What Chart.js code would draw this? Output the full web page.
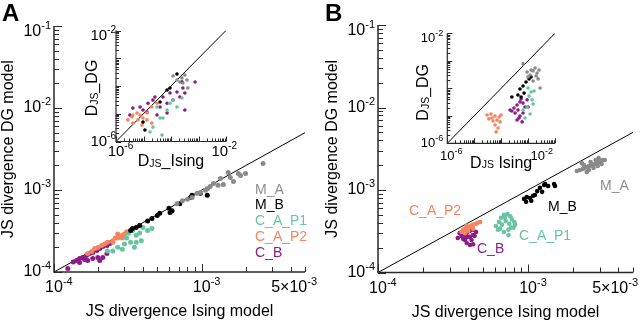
<!DOCTYPE html>
<html>
<head>
<meta charset="utf-8">
<script src="https://cdn.jsdelivr.net/npm/chart.js@4.4.0/dist/chart.umd.min.js"></script>
<style>
  html, body { margin: 0; padding: 0; background: #fff; }
  #wrap { position: relative; width: 640px; height: 324px; overflow: hidden; background: #fff; }
  canvas { position: absolute; }
</style>
</head>
<body>
<div id="wrap">
  <canvas id="mainA" width="320" height="324" style="left:0px;top:0px"></canvas>
  <canvas id="mainB" width="320" height="324" style="left:320px;top:0px"></canvas>
  <canvas id="insetA" width="200" height="175" style="left:60px;top:0px"></canvas>
  <canvas id="insetB" width="200" height="175" style="left:380px;top:0px"></canvas>
</div>
<script>
var FONT = '"Liberation Sans", Arial, Helvetica, sans-serif';

// groups, in the order of the legend
var groups = ['M_A', 'M_B', 'C_A_P1', 'C_A_P2', 'C_B'];
var groupColors = ['#8a8a8a', '#000000', '#68c3a0', '#f5845f', '#8a1c88'];

// tick labels
var mainXTicks = [1e-4, 1e-3, 5e-3];
var mainXLabels = [['10', '-4'], ['10', '-3'], ['5\u00d710', '-3']];
var mainYTicks = [1e-4, 1e-3, 1e-2, 1e-1];
var mainYLabels = [['10', '-4'], ['10', '-3'], ['10', '-2'], ['10', '-1']];
var insetTicks = [1e-6, 1e-2];
var insetLabels = [['10', '-6'], ['10', '-2']];

// panel A, main plot: [JS Ising, JS DG]
var mainA_MA = [[2.6e-3,2.1e-3],[1.77e-3,1.59e-3],[1.98e-3,1.59e-3],[1.51e-3,1.63e-3],[1.56e-3,1.42e-3],[1.34e-3,1.38e-3],[1.2e-3,1.2e-3],[1.14e-3,1.1e-3],[1.06e-3,0.99e-3],[0.98e-3,0.93e-3],[0.93e-3,0.91e-3],[0.86e-3,0.81e-3],[0.8e-3,0.77e-3],[0.74e-3,0.74e-3],[0.68e-3,0.68e-3],[1.29e-3,1.14e-3],[1.4e-3,1.17e-3],[1.64e-3,1.27e-3],[1.83e-3,1.5e-3],[1.1e-3,1.04e-3]];
var mainA_MB = [[1.09e-3,0.86e-3],[0.86e-3,0.86e-3],[0.84e-3,0.81e-3],[0.71e-3,0.68e-3],[0.63e-3,0.56e-3],[0.61e-3,0.53e-3],[0.52e-3,0.52e-3],[0.5e-3,0.49e-3],[0.46e-3,0.45e-3],[0.43e-3,0.42e-3],[0.38e-3,0.37e-3],[0.36e-3,0.35e-3],[0.34e-3,0.34e-3],[0.33e-3,0.32e-3],[0.98e-3,0.91e-3],[0.6e-3,0.6e-3]];
var mainA_CAP1 = [[0.46e-3,0.34e-3],[0.43e-3,0.32e-3],[0.40e-3,0.35e-3],[0.38e-3,0.30e-3],[0.39e-3,0.24e-3],[0.36e-3,0.23e-3],[0.35e-3,0.20e-3],[0.33e-3,0.23e-3],[0.31e-3,0.26e-3],[0.30e-3,0.22e-3],[0.29e-3,0.19e-3],[0.27e-3,0.20e-3],[0.25e-3,0.18e-3],[0.23e-3,0.18e-3],[0.32e-3,0.30e-3],[0.36e-3,0.28e-3],[0.34e-3,0.32e-3]];
var mainA_CAP2 = [[0.32e-3,0.30e-3],[0.30e-3,0.29e-3],[0.29e-3,0.28e-3],[0.27e-3,0.26e-3],[0.26e-3,0.26e-3],[0.25e-3,0.24e-3],[0.23e-3,0.23e-3],[0.22e-3,0.22e-3],[0.21e-3,0.21e-3],[0.198e-3,0.199e-3],[0.189e-3,0.194e-3],[0.18e-3,0.178e-3],[0.169e-3,0.168e-3],[0.27e-3,0.29e-3],[0.29e-3,0.26e-3],[0.25e-3,0.23e-3],[0.31e-3,0.31e-3],[0.28e-3,0.27e-3]];
var mainA_CB = [[0.124e-3,0.110e-3],[0.142e-3,0.138e-3],[0.149e-3,0.146e-3],[0.156e-3,0.150e-3],[0.166e-3,0.159e-3],[0.174e-3,0.168e-3],[0.183e-3,0.173e-3],[0.195e-3,0.183e-3],[0.204e-3,0.194e-3],[0.214e-3,0.205e-3],[0.228e-3,0.21e-3],[0.239e-3,0.223e-3],[0.169e-3,0.138e-3],[0.149e-3,0.131e-3],[0.198e-3,0.150e-3],[0.204e-3,0.138e-3],[0.228e-3,0.168e-3],[0.183e-3,0.146e-3],[0.214e-3,0.150e-3],[0.161e-3,0.142e-3],[0.135e-3,0.132e-3],[0.19e-3,0.19e-3]];

// panel A, inset
var insetA_MA = [[1.18e-4,2.29e-4],[2.5e-4,1.94e-4],[3.2e-4,2.5e-4],[3.8e-4,1.64e-4],[2.7e-4,1.28e-4],[4.1e-4,0.85e-4],[2.1e-4,1.39e-4],[1.65e-4,1.64e-4]];
var insetA_MB = [[1.65e-4,2.7e-4],[2.5e-4,1.39e-4],[0.92e-4,0.85e-4],[0.72e-4,0.72e-4],[0.96e-5,5.0e-6],[1.13e-5,2.6e-6],[4.0e-5,2.65e-5]];
var insetA_CAP1 = [[2.5e-4,3.7e-5],[1.65e-4,1.75e-5],[7.2e-5,1.36e-5],[4.0e-5,7.0e-6],[5.1e-5,7.0e-6],[2.2e-5,3.3e-6],[1.72e-5,2.2e-6],[4.7e-5,1.7e-6],[1.18e-4,3.1e-5],[3.1e-5,1.75e-5],[9.2e-5,2.4e-5]];
var insetA_CAP2 = [[4.1e-6,9.0e-6],[5.8e-6,1.06e-5],[7.5e-6,9.0e-6],[9.6e-6,7.0e-6],[1.34e-5,1.06e-5],[6.3e-6,6.0e-6],[4.1e-6,4.6e-6],[2.7e-6,6.0e-6],[1.34e-5,6.0e-6],[2.0e-5,1.75e-5],[3.1e-5,2.4e-5],[2.0e-5,4.6e-6],[8.8e-6,3.9e-6],[3.8e-6,7.6e-6]];
var insetA_CB = [[7.5e-4,1.39e-4],[2.7e-4,0.85e-4],[3.2e-4,5.6e-5],[1.65e-4,6.1e-5],[2.1e-4,4.0e-5],[0.92e-4,5.6e-5],[5.1e-5,4.0e-5],[1.18e-4,3.1e-5],[7.2e-5,2.4e-5],[4.0e-5,1.75e-5],[2.2e-5,3.1e-5],[1.46e-5,2.4e-5],[7.5e-6,1.75e-5],[4.1e-6,1.6e-5],[3.2e-6,9.0e-6],[3.1e-5,9.0e-6],[7.2e-5,1.06e-5],[3.2e-4,1.36e-5],[1.34e-5,1.16e-5],[2.6e-5,4.0e-5],[0.96e-5,1.36e-5]];

// panel B, main plot
var mainB_MA = [[2.11e-3,1.70e-3],[2.21e-3,1.75e-3],[2.31e-3,1.80e-3],[2.38e-3,1.85e-3],[2.46e-3,1.90e-3],[2.54e-3,1.95e-3],[2.61e-3,1.95e-3],[2.69e-3,2.01e-3],[2.78e-3,2.07e-3],[2.86e-3,2.12e-3],[2.95e-3,2.18e-3],[3.04e-3,2.25e-3],[3.14e-3,2.31e-3],[3.24e-3,2.31e-3],[2.54e-3,1.75e-3],[2.73e-3,1.85e-3],[2.35e-3,2.01e-3],[2.91e-3,1.95e-3],[3.09e-3,2.07e-3],[2.61e-3,2.18e-3],[2.82e-3,2.31e-3],[2.46e-3,1.65e-3],[2.28e-3,2.12e-3],[2.95e-3,2.44e-3]];
var mainB_MB = [[0.94e-3,0.78e-3],[0.98e-3,0.82e-3],[1.03e-3,0.80e-3],[1.08e-3,0.85e-3],[0.97e-3,0.72e-3],[1.05e-3,0.74e-3],[1.11e-3,0.87e-3],[1.15e-3,0.97e-3],[1.20e-3,1.06e-3],[1.28e-3,1.15e-3],[1.36e-3,1.12e-3],[1.49e-3,1.18e-3],[1.51e-3,1.12e-3],[1.24e-3,0.95e-3],[1.30e-3,1.18e-3]];
var mainB_CAP1 = [[0.61e-3,0.366e-3],[0.64e-3,0.41e-3],[0.66e-3,0.46e-3],[0.69e-3,0.50e-3],[0.73e-3,0.51e-3],[0.76e-3,0.48e-3],[0.78e-3,0.44e-3],[0.81e-3,0.41e-3],[0.82e-3,0.38e-3],[0.77e-3,0.35e-3],[0.74e-3,0.33e-3],[0.69e-3,0.31e-3],[0.74e-3,0.285e-3],[0.65e-3,0.34e-3],[0.67e-3,0.38e-3],[0.71e-3,0.42e-3],[0.75e-3,0.39e-3],[0.80e-3,0.35e-3],[0.63e-3,0.33e-3],[0.70e-3,0.46e-3]];
var mainB_CAP2 = [[0.36e-3,0.31e-3],[0.37e-3,0.33e-3],[0.38e-3,0.34e-3],[0.39e-3,0.35e-3],[0.41e-3,0.36e-3],[0.42e-3,0.37e-3],[0.43e-3,0.38e-3],[0.45e-3,0.39e-3],[0.46e-3,0.40e-3],[0.48e-3,0.41e-3],[0.38e-3,0.30e-3],[0.40e-3,0.32e-3],[0.43e-3,0.34e-3],[0.39e-3,0.37e-3]];
var mainB_CB = [[0.34e-3,0.262e-3],[0.36e-3,0.277e-3],[0.38e-3,0.285e-3],[0.39e-3,0.30e-3],[0.41e-3,0.32e-3],[0.43e-3,0.33e-3],[0.45e-3,0.31e-3],[0.41e-3,0.27e-3],[0.38e-3,0.248e-3],[0.42e-3,0.248e-3],[0.39e-3,0.228e-3],[0.43e-3,0.22e-3],[0.37e-3,0.255e-3],[0.44e-3,0.277e-3],[0.35e-3,0.30e-3],[0.39e-3,0.27e-3],[0.43e-3,0.285e-3],[0.41e-3,0.215e-3]];

// panel B, inset
var insetB_MA = [[6.5e-4,7.7e-4],[9.2e-4,3.9e-4],[1.19e-3,3.05e-4],[1.53e-3,4.3e-4],[2.16e-3,3.6e-4],[1.53e-3,1.84e-4],[2.36e-3,2.2e-4],[2.79e-3,1.03e-4],[1.82e-3,5.5e-4],[1.0e-3,2.6e-4],[1.29e-3,4.6e-4],[1.98e-3,2.8e-4],[2.56e-3,4.6e-4]];
var insetB_MB = [[2.5e-4,4.8e-5],[5.0e-4,9.4e-5],[6.5e-4,1.21e-4],[8.4e-4,1.69e-4],[1.09e-3,2.2e-4],[7.1e-4,6.7e-5],[5.5e-4,4.8e-5],[4.2e-4,5.7e-5],[1.29e-3,2.6e-4]];
var insetB_CAP1 = [[1.0e-3,1.03e-4],[1.29e-3,7.3e-5],[1.67e-3,8.0e-5],[1.41e-3,3.8e-5],[9.2e-4,2.1e-5],[1.19e-3,1.16e-5],[7.7e-4,8.3e-6],[6.5e-4,1.63e-5],[1.09e-3,5.2e-5],[1.53e-3,2.7e-5]];
var insetB_CAP2 = [[3.0e-5,1.07e-5],[4.2e-5,1.16e-5],[5.9e-5,0.98e-5],[8.4e-5,9.0e-6],[9.9e-5,1.07e-5],[3.5e-5,7.7e-6],[5.0e-5,6.5e-6],[7.0e-5,7.0e-6],[9.1e-5,6.0e-6],[5.9e-5,4.6e-6],[7.7e-5,3.6e-6],[6.5e-5,2.6e-6],[4.6e-5,8.3e-6]];
var insetB_CB = [[2.14e-4,1.63e-5],[3.0e-4,1.92e-5],[3.9e-4,2.47e-5],[5.0e-4,3.2e-5],[6.5e-4,2.9e-5],[9.2e-4,3.8e-5],[4.2e-4,1.63e-5],[5.0e-4,9.8e-6],[3.9e-4,7.0e-6],[6.5e-4,1.26e-5],[7.7e-4,2.1e-5],[3.3e-4,1.26e-5],[1.0e-3,2.1e-5],[6.0e-4,6.0e-6],[4.6e-4,8.3e-6],[5.5e-4,4.1e-5],[2.5e-4,1.5e-5]];

// tick marks at 1..9 x 10^n
function logTicks(min, max) {
  var out = [];
  for (var e = Math.floor(Math.log10(min)); e <= Math.ceil(Math.log10(max)); e++) {
    for (var m = 1; m < 10; m++) {
      var v = m * Math.pow(10, e);
      if (v >= min * 0.999 && v <= max * 1.001) out.push({ v: v, major: m === 1 });
    }
  }
  return out;
}

function runsWidth(ctx, runs) {
  var w = 0;
  runs.forEach(function (r) {
    ctx.font = (r.bold ? 'bold ' : '') + r.size + 'px ' + FONT;
    w += ctx.measureText(r.t).width;
  });
  return w;
}

function drawRuns(ctx, runs, x, y) {
  runs.forEach(function (r) {
    ctx.font = (r.bold ? 'bold ' : '') + r.size + 'px ' + FONT;
    ctx.fillText(r.t, x, y + (r.dy || 0));
    x += ctx.measureText(r.t).width;
  });
}

function powRuns(lab, size, sup) {
  return [{ t: lab[0], size: size }, { t: lab[1], size: sup, dy: -0.36 * size }];
}

function decoPlugin(cfg) {
  return {
    id: 'deco',
    afterDraw: function (chart) {
      var ctx = chart.ctx, a = chart.chartArea, xs = chart.scales.x, ys = chart.scales.y;
      ctx.save();
      ctx.strokeStyle = '#2a2a2a';
      ctx.lineWidth = cfg.axisWidth;
      ctx.beginPath();
      ctx.moveTo(a.left, a.top);
      ctx.lineTo(a.left, a.bottom);
      ctx.lineTo(a.right, a.bottom);
      ctx.stroke();

      ctx.lineWidth = 1;
      ctx.beginPath();
      logTicks(xs.min, xs.max).forEach(function (t) {
        var p = Math.round(xs.getPixelForValue(t.v)) + 0.5;
        ctx.moveTo(p, a.bottom);
        ctx.lineTo(p, a.bottom - (t.major ? cfg.major : cfg.minor));
      });
      logTicks(ys.min, ys.max).forEach(function (t) {
        var p = Math.round(ys.getPixelForValue(t.v)) + 0.5;
        ctx.moveTo(a.left, p);
        ctx.lineTo(a.left + (t.major ? cfg.major : cfg.minor), p);
      });
      ctx.stroke();

      ctx.fillStyle = '#000';
      ctx.textBaseline = 'middle';
      cfg.xTicks.forEach(function (v, i) {
        var runs = powRuns(cfg.xLabels[i], cfg.size, cfg.sup);
        var w = runsWidth(ctx, runs), wb = runsWidth(ctx, [runs[0]]);
        var x0 = Math.min(xs.getPixelForValue(v) - wb / 2, cfg.xLimit - w);
        drawRuns(ctx, runs, x0, a.bottom + cfg.xGap);
      });
      cfg.yTicks.forEach(function (v, i) {
        var runs = powRuns(cfg.yLabels[i], cfg.size, cfg.sup);
        var w = runsWidth(ctx, runs);
        var y = Math.max(ys.getPixelForValue(v), a.top + cfg.size * 0.36);
        drawRuns(ctx, runs, a.left + cfg.yGap - w, y);
      });

      // axis titles
      var xw = runsWidth(ctx, cfg.xTitle);
      drawRuns(ctx, cfg.xTitle, (a.left + a.right) / 2 - xw / 2, a.bottom + cfg.xTitleGap);
      var yw = runsWidth(ctx, cfg.yTitle);
      ctx.save();
      ctx.translate(cfg.yTitleX, (a.top + a.bottom) / 2 + (cfg.yTitleShift || 0));
      ctx.rotate(-Math.PI / 2);
      drawRuns(ctx, cfg.yTitle, -yw / 2, 0);
      ctx.restore();

      // free texts: panel letter and group names
      (cfg.texts || []).forEach(function (t) {
        ctx.fillStyle = t.color || '#000';
        drawRuns(ctx, [{ t: t.t, size: t.size, bold: t.bold }], t.x, t.y);
      });
      ctx.restore();
    }
  };
}

function makePlot(id, pad, xRange, yRange, sets, dot, cfg) {
  var datasets = sets.map(function (s, i) {
    return {
      data: s.map(function (p) { return { x: p[0], y: p[1] }; }),
      backgroundColor: groupColors[i],
      borderWidth: 0,
      pointRadius: dot,
      clip: 6
    };
  });
  // identity line, drawn underneath the dots
  datasets.push({
    data: [{ x: xRange[0], y: xRange[0] }, { x: xRange[1], y: xRange[1] }],
    showLine: true,
    borderColor: '#000',
    borderWidth: 1,
    pointRadius: 0
  });
  return new Chart(document.getElementById(id), {
    type: 'scatter',
    data: { datasets: datasets },
    options: {
      responsive: false,
      animation: false,
      events: [],
      layout: { padding: pad },
      plugins: { legend: { display: false }, tooltip: { enabled: false } },
      scales: {
        x: { type: 'logarithmic', min: xRange[0], max: xRange[1], display: false },
        y: { type: 'logarithmic', min: yRange[0], max: yRange[1], display: false }
      }
    },
    plugins: [decoPlugin(cfg)]
  });
}

function legendTexts(xy) {
  return groups.map(function (g, i) {
    return { t: g, x: xy[i][0], y: xy[i][1], size: 14, color: i === 0 ? '#8f8f8f' : groupColors[i] };
  });
}

var mainXTitle = [{ t: 'JS divergence Ising model', size: 16 }];
var mainYTitle = [{ t: 'JS divergence DG model', size: 16 }];

makePlot('mainA', { left: 54, right: 15, top: 26, bottom: 52 }, [1e-4, 5e-3], [1e-4, 1e-1],
  [mainA_MA, mainA_MB, mainA_CAP1, mainA_CAP2, mainA_CB], 2.5, {
    axisWidth: 1.5, major: 8, minor: 5, size: 16, sup: 11,
    xTicks: mainXTicks, xLabels: mainXLabels, yTicks: mainYTicks, yLabels: mainYLabels,
    xGap: 16, xLimit: 317, yGap: -3,
    xTitle: mainXTitle, xTitleGap: 40, yTitle: mainYTitle, yTitleX: 9,
    texts: [{ t: 'A', x: 2, y: 14, size: 24, bold: true }].concat(
      legendTexts([[255, 190], [255, 205], [255, 221], [255, 237], [255, 253]]))
  });

makePlot('mainB', { left: 58, right: 7, top: 25, bottom: 51.5 }, [1e-4, 5e-3], [1e-4, 1e-1],
  [mainB_MA, mainB_MB, mainB_CAP1, mainB_CAP2, mainB_CB], 2.3, {
    axisWidth: 1.5, major: 8, minor: 5, size: 16, sup: 11,
    xTicks: mainXTicks, xLabels: mainXLabels, yTicks: mainYTicks, yLabels: mainYLabels,
    xGap: 16, xLimit: 318, yGap: -3,
    xTitle: mainXTitle, xTitleGap: 40, yTitle: mainYTitle, yTitleX: 13,
    texts: [{ t: 'B', x: 5, y: 14, size: 24, bold: true }].concat(
      legendTexts([[280, 186], [228, 207], [199, 236], [89, 211], [157, 249]]))
  });

makePlot('insetA', { left: 56, right: 34, top: 30.5, bottom: 33.5 }, [1e-6, 1e-2], [1e-6, 1e-2],
  [insetA_MA, insetA_MB, insetA_CAP1, insetA_CAP2, insetA_CB], 1.8, {
    axisWidth: 1.2, major: 5, minor: 3, size: 15, sup: 10,
    xTicks: insetTicks, xLabels: insetLabels, yTicks: insetTicks, yLabels: insetLabels,
    xGap: 10, xLimit: 177, yGap: 0,
    xTitle: [{ t: 'D', size: 16 }, { t: 'JS', size: 10.5, dy: 2 }, { t: '_Ising', size: 16 }], xTitleGap: 20.5,
    yTitle: [{ t: 'D', size: 16 }, { t: 'JS', size: 10.5, dy: 2 }, { t: '_DG', size: 16 }], yTitleX: 33, yTitleShift: 2
  });

makePlot('insetB', { left: 67.3, right: 25, top: 33.3, bottom: 31.7 }, [1e-6, 1e-2], [1e-6, 1e-2],
  [insetB_MA, insetB_MB, insetB_CAP1, insetB_CAP2, insetB_CB], 1.8, {
    axisWidth: 1.2, major: 5, minor: 3, size: 13, sup: 9,
    xTicks: insetTicks, xLabels: insetLabels, yTicks: insetTicks, yLabels: insetLabels,
    xGap: 13, xLimit: 173, yGap: -4,
    xTitle: [{ t: 'D', size: 16 }, { t: 'JS', size: 10.5, dy: 2 }, { t: ' Ising', size: 16 }], xTitleGap: 20,
    yTitle: [{ t: 'D', size: 16 }, { t: 'JS', size: 10.5, dy: 2 }, { t: '_DG', size: 16 }], yTitleX: 44, yTitleShift: 4
  });
</script>
</body>
</html>
